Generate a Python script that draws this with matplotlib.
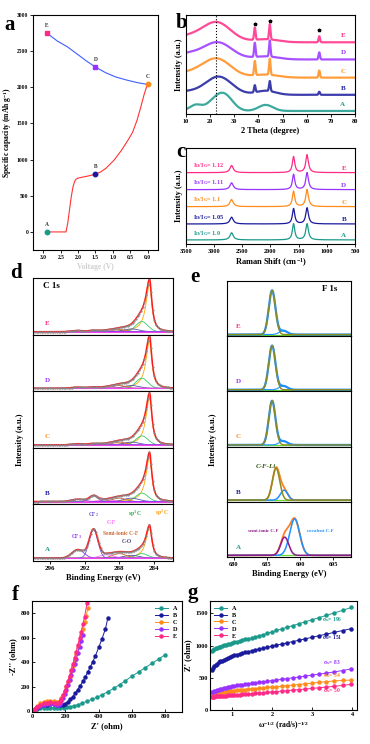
import numpy as np
import matplotlib.pyplot as plt

plt.rcParams['font.family'] = ['Liberation Serif', 'DejaVu Serif']
plt.rcParams['font.weight'] = 'bold'
plt.rcParams['axes.labelweight'] = 'bold'
plt.rcParams['font.size'] = 5
plt.rcParams['axes.linewidth'] = 0.8
plt.rcParams['xtick.major.size'] = 2
plt.rcParams['ytick.major.size'] = 2
plt.rcParams['xtick.major.width'] = 0.6
plt.rcParams['ytick.major.width'] = 0.6
plt.rcParams['xtick.major.pad'] = 1.5
plt.rcParams['ytick.major.pad'] = 1.5
plt.rcParams['axes.labelpad'] = 2
plt.rcParams['mathtext.fontset'] = 'custom'
plt.rcParams['mathtext.rm'] = 'Liberation Serif:bold'
plt.rcParams['mathtext.it'] = 'Liberation Serif:bold'
plt.rcParams['mathtext.bf'] = 'Liberation Serif:bold'
plt.rcParams['mathtext.default'] = 'rm'

samples = ['A', 'B', 'C', 'D', 'E']
colors = ['#1b9a8c', '#1a1a9c', '#ff8c1a', '#9932ff', '#ff2a85']

# ---- panel a: capacity vs voltage
dis_v = [2.9, 2.6, 2.35, 2.3, 2.25, 2.2, 2.15, 2.1, 2.06, 2.0, 1.9, 1.8, 1.65, 1.5, 1.35, 1.2, 0.97, 0.75, 0.55, 0.43, 0.3, 0.2, 0.1, 0.0]
dis_cap = [0, 0, 0, 120, 300, 480, 620, 700, 730, 745, 755, 765, 780, 800, 830, 880, 990, 1130, 1280, 1380, 1550, 1720, 1900, 2050]
chg_v = [2.9, 2.6, 2.31, 2.0, 1.75, 1.5, 1.2, 0.9, 0.6, 0.3, 0.0]
chg_cap = [2750, 2640, 2560, 2450, 2360, 2280, 2200, 2140, 2100, 2065, 2040]
pt_v = [2.9, 1.5, 0.0, 1.5, 2.9]
pt_cap = [0, 800, 2050, 2280, 2750]
pt_marker = ['o', 'o', 'o', 's', 's']

# ---- panel b: XRD (baseline, broad humps, sharp peaks at 38.5/44.7/65.2)
xrd_base = [3, 19, 36, 54, 71]
xrd_hump_c = [[25.8, 14.0, 21.0, 43.0], [23.5, 10, 43], [22.5, 10, 43], [23.0, 10, 43], [22.5, 10, 43]]
xrd_hump_h = [[16, 6, 6, 6], [18, 3, 4], [19, 4, 3], [17, 5, 3], [20, 5, 3]]
xrd_hump_w = [[3.5, 2.5, 3.0, 3.0], [5.5, 5, 4], [6, 5, 5], [6, 5, 5], [6, 5, 5]]
xrd_peak_c = [38.5, 44.7, 65.2]
xrd_peak_h = [[0, 0, 0], [7, 10, 3], [14, 16, 7], [14, 16, 7], [12, 15, 6]]

# ---- panel c: Raman
raman_base = [0.24, 1.18, 2.2, 3.2, 4.2]
raman_D = [0.95, 0.95, 1.0, 1.0, 1.05]
raman_G = [0.95, 0.90, 0.9, 0.9, 0.94]
raman_2D = [0.42, 0.40, 0.42, 0.40, 0.42]
raman_ratio = ['1.0', '1.05', '1.1', '1.11', '1.12']

# ---- panel d: C 1s components (sp2, sp3, C-O, semi-ionic C-F, C-F, CF2, CF3)
c1s_c = [284.5, 285.4, 286.6, 288.0, 289.5, 291.0, 292.8]
c1s_w = [0.35, 0.7, 0.9, 0.8, 0.8, 0.5, 0.7]
c1s_col = ['#ffa500', '#33cc66', '#5555aa', '#cc6633', '#ff66ff', '#6a5acd', '#9933ff']
c1s_h = [[0.55, 0.08, 0.05, 0.08, 0.06, 0.50, 0.15],
         [0.80, 0.15, 0.06, 0.06, 0.03, 0.10, 0.04],
         [0.85, 0.16, 0.05, 0.05, 0.02, 0.02, 0.02],
         [0.85, 0.18, 0.05, 0.05, 0.02, 0.02, 0.02],
         [0.85, 0.18, 0.05, 0.04, 0.02, 0.02, 0.02]]

# ---- panel e: F 1s components
f1s_main_c = [687.7, 686.4, 685.8, 685.8, 685.8]
f1s_main_h = [0.33, 0.58, 0.80, 0.80, 0.80]
f1s_main_w = [0.6, 0.55, 0.5, 0.5, 0.5]
f1s_sec_c = [689.2, 687.6, 687.5, 687.5, 687.5]
f1s_sec_h = [0.66, 0.18, 0.07, 0.07, 0.07]
f1s_sec_w = [0.75, 0.55, 0.6, 0.6, 0.6]

# ---- panel f: Nyquist
fA_x = [5, 15, 30, 50, 70, 90, 110, 130, 150, 170, 190, 210, 230, 250, 275, 300, 330, 360, 390, 420, 455, 490, 525, 560, 600, 640, 680, 720, 760, 800]
fA_y = [3, 10, 17, 22, 25, 27, 27, 27, 27, 27, 28, 31, 36, 42, 52, 64, 80, 96, 113, 132, 158, 185, 215, 248, 285, 320, 355, 390, 425, 462]
fB_x = [5, 15, 30, 50, 70, 90, 110, 130, 150, 170, 185, 200, 215, 230, 245, 260, 275, 290, 305, 320, 335, 350, 365, 380, 400, 420, 440, 455]
fB_y = [4, 14, 28, 40, 48, 53, 55, 55, 53, 50, 52, 60, 75, 95, 118, 145, 175, 208, 243, 280, 320, 362, 405, 450, 520, 590, 670, 760]
fC_x = [5, 15, 30, 50, 70, 90, 110, 130, 145, 155, 165, 175, 185, 195, 205, 215, 225, 235, 245, 255, 265, 275, 285, 295, 305, 315, 325, 335]
fC_y = [5, 20, 42, 62, 76, 83, 85, 82, 76, 75, 85, 105, 130, 160, 195, 235, 278, 325, 372, 420, 470, 520, 570, 622, 672, 725, 780, 840]
fD_x = [5, 15, 30, 50, 70, 90, 110, 130, 145, 155, 165, 175, 185, 195, 205, 215, 225, 235, 245, 255, 265, 275, 285, 295, 305]
fD_y = [4, 15, 30, 44, 53, 58, 59, 56, 50, 48, 58, 80, 108, 140, 175, 212, 252, 295, 338, 382, 428, 475, 525, 572, 620]
fE_x = [5, 15, 30, 50, 70, 90, 110, 130, 145, 155, 165, 175, 185, 195, 205, 215, 225, 235, 245, 255, 265, 275, 285, 295, 305, 315, 330]
fE_y = [4, 17, 35, 52, 63, 69, 70, 67, 62, 62, 75, 100, 130, 165, 205, 245, 290, 335, 385, 435, 485, 540, 595, 650, 710, 770, 880]

# ---- panel g: Z' vs w^-1/2
wg = [0.50, 0.53, 0.56, 0.59, 0.63, 0.67, 0.71, 0.75, 0.79, 0.84, 0.89, 0.94, 1.00, 1.06, 1.12, 1.19, 1.26, 1.33, 1.41,
      1.50, 1.58, 1.68, 1.78, 1.88, 2.00, 2.11, 2.24, 2.37, 2.51, 2.66, 2.82, 2.99, 3.16, 3.35, 3.55, 3.76, 3.98]
gA = [920, 932, 944, 954, 965, 975, 984, 993, 1002, 1012, 1022, 1031, 1042, 1052, 1062, 1073, 1084, 1095, 1107,
      1120, 1134, 1152, 1170, 1188, 1212, 1233, 1257, 1282, 1308, 1336, 1366, 1398, 1430, 1466, 1505, 1545, 1590]
gB = [620, 655, 680, 700, 720, 738, 753, 766, 778, 792, 806, 820, 836, 848, 860, 872, 884, 895, 907,
      920, 932, 946, 960, 973, 990, 1005, 1022, 1040, 1060, 1080, 1102, 1126, 1150, 1176, 1203, 1232, 1262]
gC = [245, 250, 254, 258, 262, 266, 270, 274, 278, 283, 287, 291, 296, 300, 304, 308, 312, 316, 321,
      326, 331, 337, 343, 349, 356, 362, 370, 378, 386, 395, 405, 416, 427, 439, 451, 458, 465]
gD = [275, 284, 292, 300, 309, 317, 325, 332, 339, 347, 354, 361, 369, 375, 381, 387, 393, 399, 406,
      414, 421, 430, 438, 446, 456, 465, 476, 487, 499, 511, 525, 540, 555, 572, 590, 612, 638]
gE = [205, 207, 209, 211, 213, 215, 217, 219, 221, 224, 226, 228, 231, 234, 237, 240, 243, 246, 250,
      254, 258, 263, 268, 273, 279, 285, 292, 299, 307, 315, 324, 334, 344, 355, 367, 382, 398]
sigma_w = ['196', '151', '54', '83', '50']
sigma_pos = [1385, 1092, 508, 708, 277]


def box(l, t, r, b):
    return [l / 370, 1 - b / 744, (r - l) / 370, (b - t) / 744]


def gauss(x, c, h, w):
    return h * np.exp(-(x - c) ** 2 / (2 * w ** 2))


def lorentz(x, c, h, w):
    return h * w ** 2 / ((x - c) ** 2 + w ** 2)


fig = plt.figure(figsize=(3.7, 7.44), dpi=100)
for lab, x, y in [('a', 4, 30), ('b', 176, 28), ('c', 176, 157), ('d', 10, 278), ('e', 190, 282), ('f', 12, 600), ('g', 188, 598)]:
    fig.text(x / 370, 1 - y / 744, lab, fontsize=15, fontweight='bold')

# a
ax = fig.add_axes(box(33, 15, 158, 250))
ax.plot(dis_v, dis_cap, color='#ff3333', lw=0.8)
ax.plot(chg_v, chg_cap, color='#3f5fff', lw=0.8)
for v, c, lab, col, m in zip(pt_v, pt_cap, samples, colors, pt_marker):
    ax.plot(v, c, m, color=col, ms=3.2, zorder=3)
    ax.text(v, c + 70, lab, fontsize=4, ha='center', va='bottom', color='#333333')
ax.set_xlim(3.3, -0.3)
ax.set_ylim(-250, 3000)
ax.set_xticks([3.0, 2.5, 2.0, 1.5, 1.0, 0.5, 0.0])
ax.set_yticks(range(0, 3001, 500))
ax.tick_params(labelsize=4)
ax.set_ylabel('Specific capacity (mAh g$^{-1}$)', fontsize=5.5)
ax.set_xlabel('Voltage (V)', fontsize=5.5, color='#d0d0d0')

# b
ax = fig.add_axes(box(186, 15, 355, 114))
xx = np.linspace(10, 80, 1400)
for i in range(5):
    y = np.full_like(xx, xrd_base[i], dtype=float)
    for c, h, w in zip(xrd_hump_c[i], xrd_hump_h[i], xrd_hump_w[i]):
        y += gauss(xx, c, h, w)
    for c, h in zip(xrd_peak_c, xrd_peak_h[i]):
        y += gauss(xx, c, h, 0.3)
    ax.plot(xx, y, color=colors[i], lw=1.6, alpha=0.85)
    ax.text(75, xrd_base[i] + 5, samples[i], color=colors[i], fontsize=5, ha='center')
ax.axvline(22.5, color='k', ls=':', lw=0.8)
ax.plot(xrd_peak_c, [xrd_base[4] + h + 6 for h in xrd_peak_h[4]], '*', color='k', ms=2.5)
ax.set_xlim(10, 80)
ax.set_ylim(0, 98)
ax.set_yticks([])
ax.set_xticks(range(10, 81, 10))
ax.tick_params(labelsize=4.5)
ax.set_xlabel('2 Theta (degree)', fontsize=6)
ax.set_ylabel('Intensity (a.u.)', fontsize=6)

# c
ax = fig.add_axes(box(186, 148, 355, 244))
xr = np.linspace(500, 3500, 1500)
for i in range(5):
    y = raman_base[i] + lorentz(xr, 1350, raman_D[i], 28) + lorentz(xr, 1590, raman_G[i], 25) \
        + lorentz(xr, 2690, raman_2D[i], 35)
    ax.plot(xr, y, color=colors[i], lw=0.9)
    ax.text(3380, raman_base[i] + 0.3, '$I_D/I_G$= ' + raman_ratio[i], color=colors[i], fontsize=4.5)
    ax.text(700, raman_base[i] + 0.15, samples[i], color=colors[i], fontsize=5, ha='center')
ax.set_xlim(3500, 500)
ax.set_ylim(0, 5.65)
ax.set_yticks([])
ax.set_xticks(range(3500, 499, -500))
ax.tick_params(labelsize=4.5)
ax.set_xlabel('Raman Shift (cm$^{-1}$)', fontsize=6)
ax.set_ylabel('Intensity (a.u.)', fontsize=6)

# d
xd = np.linspace(281.8, 298, 500)
top, bot = 278, 561
hgt = (bot - top) / 5
for k, i in enumerate([4, 3, 2, 1, 0]):
    ax = fig.add_axes(box(33, top + k * hgt, 173, top + (k + 1) * hgt))
    base = 0.05
    env = np.full_like(xd, base)
    for j in range(7):
        if j == 0:
            comp = np.where(xd < c1s_c[0], lorentz(xd, c1s_c[0], c1s_h[i][0], 0.3),
                            lorentz(xd, c1s_c[0], c1s_h[i][0], 0.5))
        else:
            comp = gauss(xd, c1s_c[j], c1s_h[i][j], c1s_w[j])
        env += comp
        ax.plot(xd, base + comp, color=c1s_col[j], lw=0.6)
    ax.plot(xd, np.full_like(xd, base), color='#ee44ee', lw=0.8)
    ax.plot(xd, env, color='#ff1a1a', lw=1.1)
    ax.plot(xd[::6], env[::6], '.', color='#888888', ms=1.2)
    ax.text(296.6, 0.17, samples[i], color=colors[i], fontsize=5)
    ax.set_xlim(298, 281.8)
    ax.set_ylim(0, 1.0)
    ax.set_yticks([])
    if k == 0:
        ax.text(296.8, 0.82, 'C 1s', fontsize=6.5)
    if k < 4:
        ax.set_xticks([])
    else:
        ax.set_xticks([296, 292, 288, 284])
        ax.tick_params(labelsize=5)
        ax.set_xlabel('Binding Energy (eV)', fontsize=6)
        for s, xp, yp, col in [('CF$_3$', 293.0, 0.40, c1s_col[6]), ('CF$_2$', 291.0, 0.80, c1s_col[5]),
                               ('C-F', 288.9, 0.66, c1s_col[4]), ('Semi-ionic C-F', 287.9, 0.46, c1s_col[3]),
                               ('C-O', 287.1, 0.32, '#444477'), ('sp$^3$ C', 286.2, 0.80, '#22aa44'),
                               ('sp$^2$ C', 283.1, 0.82, '#ff9900')]:
            ax.text(xp, yp, s, color=col, fontsize=4, ha='center')
fig.text(20 / 370, 1 - 440 / 744, 'Intensity (a.u.)', rotation=90, ha='center', va='center', fontsize=6)

# e
xe = np.linspace(679, 697.7, 500)
top, bot = 281, 557
hgt = (bot - top) / 5
for k, i in enumerate([4, 3, 2, 1, 0]):
    ax = fig.add_axes(box(227, top + k * hgt, 351, top + (k + 1) * hgt))
    base = 0.03
    m = gauss(xe, f1s_main_c[i], f1s_main_h[i], f1s_main_w[i])
    s2 = gauss(xe, f1s_sec_c[i], f1s_sec_h[i], f1s_sec_w[i])
    env = base + m + s2
    ax.plot(xe, np.full_like(xe, base), color='#66dd33', lw=0.9)
    if i <= 1:
        ax.plot(xe, env, color='#ff7f27', lw=1.3)
        ax.plot(xe, base + s2, color='#1e90ff', lw=1.1)
        ax.plot(xe, base + m, color='#8b1a8b' if i == 0 else '#8c8c1e', lw=1.1)
    else:
        ax.plot(xe, env, color='#1e90ff', lw=1.6)
        ax.plot(xe, base + s2, color='#1e90ff', lw=0.8)
        ax.plot(xe, base + m, color='#8c8c1e', lw=1.0)
    ax.text(680.3, 0.15, samples[i], color=colors[i], fontsize=5)
    ax.set_xlim(679, 697.7)
    ax.set_ylim(0, 1.0)
    ax.set_yticks([])
    if k == 0:
        ax.text(693.3, 0.82, 'F 1s', fontsize=6.5)
    if i == 1:
        ax.text(683.3, 0.62, 'C-F-Li', fontsize=5, color='#3a5a1a', style='italic')
    if k < 4:
        ax.set_xticks([])
    else:
        ax.set_xticks([680, 685, 690, 695])
        ax.tick_params(labelsize=4.5)
        ax.set_xlabel('Binding Energy (eV)', fontsize=6)
        ax.text(684.4, 0.45, 'semi-ionic C-F', color='#8b1a8b', fontsize=3.5, ha='center')
        ax.text(693.0, 0.45, 'covalent C-F', color='#1e90ff', fontsize=3.5, ha='center')
fig.text(213 / 370, 1 - 440 / 744, 'Intensity (a.u.)', rotation=90, ha='center', va='center', fontsize=6)

# f
ax = fig.add_axes(box(32, 601, 182, 712))
for xs, ys, lab, col in zip([fA_x, fB_x, fC_x, fD_x, fE_x], [fA_y, fB_y, fC_y, fD_y, fE_y], samples, colors):
    ax.plot(xs, ys, '-o', color=col, ms=2.2, lw=0.7, mfc=col, mec=col, label=lab)
ax.set_xlim(0, 900)
ax.set_ylim(-8, 900)
ax.set_xticks([0, 200, 400, 600, 800])
ax.set_yticks([0, 200, 400, 600, 800])
ax.tick_params(labelsize=4.5, direction='in')
ax.set_xlabel("Z' (ohm)", fontsize=6)
ax.set_ylabel("-Z'' (ohm)", fontsize=6)
ax.legend(loc='upper right', fontsize=4.5, frameon=False, handlelength=2, borderaxespad=0.4, labelspacing=0.25)

# g
ax = fig.add_axes(box(210, 601, 357, 710))
for ys, lab, col in zip([gA, gB, gC, gD, gE], samples, colors):
    ax.plot(wg, ys, '-o', color=col, ms=2.2, lw=0.7, label=lab)
for s, yp, col in zip(sigma_w, sigma_pos, colors):
    ax.text(3.5, yp, '$\\sigma_w$= ' + s, color=col, fontsize=4, ha='center')
ax.set_xlim(0.45, 4.12)
ax.set_ylim(0, 1690)
ax.set_xticks([1, 2, 3, 4])
ax.set_yticks([0, 500, 1000, 1500])
ax.tick_params(labelsize=4.5, direction='in')
ax.set_xlabel('ω$^{-1/2}$ (rad/s)$^{-1/2}$', fontsize=5.5)
ax.set_ylabel("Z' (ohm)", fontsize=6)
ax.legend(loc='upper left', fontsize=4.5, frameon=False, handlelength=2, borderaxespad=0.3, labelspacing=0.25)

fig.savefig('out.png', dpi=100)
